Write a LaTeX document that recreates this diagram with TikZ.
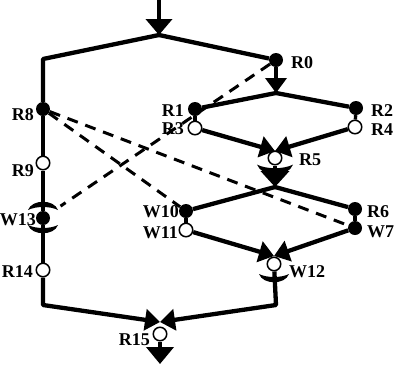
\documentclass[tikz,border=0pt]{standalone}
\usepackage{fontspec}
\setmainfont{Liberation Serif}
\usetikzlibrary{arrows.meta}

\tikzset{
  flow/.style={line width=4.3pt, line join=round},
  headed/.style={flow, -{Triangle[length=15pt,width=21pt]}},
  link/.style={line width=3pt, dash pattern=on 11pt off 8pt},
  neck/.style={line width=3.4pt},
  fullpl/.style={circle, fill=black, minimum size=14pt, inner sep=0pt},
  openpl/.style={circle, draw=black, fill=white, line width=1.5pt, minimum size=13.5pt, inner sep=0pt},
  lbl/.style={font=\bfseries\fontsize{18}{18}\selectfont, inner sep=0pt},
  bowl/.pic={\fill (-15,-2) .. controls (-11,9) and (11,9) .. (15,-2) .. controls (7,2) and (-7,2) .. cycle;}
}

\begin{document}
\begin{tikzpicture}[x=1pt,y=-1pt]
    \useasboundingbox (0,0) rectangle (399,365);

    % places
    \node[fullpl] (R0) at (276,60) {};
    \node[fullpl] (R1) at (195,109) {};
    \node[openpl] (R3) at (195,128) {};
    \node[fullpl] (R2) at (356,108) {};
    \node[openpl] (R4) at (355,127) {};
    \node[openpl] (R5) at (275,158) {};
    \node[fullpl] (W10) at (186,211) {};
    \node[openpl] (W11) at (186,230) {};
    \node[fullpl] (R6) at (355,209) {};
    \node[fullpl] (W7) at (355,228) {};
    \node[openpl] (W12) at (274,264) {};
    \node[fullpl] (R8) at (43,109) {};
    \node[openpl] (R9) at (43,163) {};
    \node[fullpl] (W13) at (43,218) {};
    \node[openpl] (R14) at (43,270) {};
    \node[openpl] (R15) at (160,334) {};

    % junctions and corners
    \coordinate (in) at (159,0);
    \coordinate (t0) at (159,35);
    \coordinate (t1) at (276,93);
    \coordinate (t2) at (275,151);
    \coordinate (t3) at (275,187);
    \coordinate (t4) at (274,256);
    \coordinate (t5) at (160,322);
    \coordinate (cL) at (43,59);
    \coordinate (cB) at (43,305);
    \coordinate (cR) at (276,305);
    \coordinate (out) at (160,364);

    % main flow
    \draw[flow, -{Triangle[length=16pt,width=26pt]}] (in) -- (t0);
    \draw[flow] (t0) -- (R0);
    \draw[headed] (R0) -- (t1);
    \draw[flow] (t1) -- (R1);
    \draw[flow] (t1) -- (R2);
    \draw[neck] (R1) -- (R3);
    \draw[neck] (R2) -- (R4);
    \draw[headed] (R3) -- (t2);
    \draw[headed] (R4) -- (t2);
    \draw[flow, -{Triangle[length=16pt,width=28pt]}] (R5) -- (t3);
    \pic[scale=1.2] at (275,167) {bowl};
    \draw[flow] (t3) -- (W10);
    \draw[flow] (t3) -- (R6);
    \draw[neck] (W10) -- (W11);
    \draw[neck] (R6) -- (W7);
    \draw[headed] (W11) -- (t4);
    \draw[headed] (W7) -- (t4);
    \draw[headed] (W12) -- (cR) -- (t5);
    \pic at (274,276) {bowl};

    \draw[flow] (t0) -- (cL) -- (R8);
    \draw[flow] (R8) -- (R9);
    \draw[flow] (R9) -- (W13);
    \draw[flow] (W13) -- (R14);
    \pic[yscale=-1] at (43,208) {bowl};
    \pic at (43,227) {bowl};
    \draw[headed] (R14) -- (cB) -- (t5);
    \draw[flow, -{Triangle[length=17pt,width=27pt]}] (R15) -- (out);

    % dashed arcs
    \draw[link, shorten >=14pt] (R0) -- (W13);
    \draw[link] (R8) -- (W10);
    \draw[link] (R8) -- (W7);

    % labels
    \node[lbl, anchor=west] (lR0) at (291,63) {R0};
    \node[lbl, anchor=east] (lR1) at (184,111) {R1};
    \node[lbl, anchor=east] (lR3) at (184,129) {R3};
    \node[lbl, anchor=west] (lR2) at (371,111) {R2};
    \node[lbl, anchor=west] (lR4) at (371,130) {R4};
    \node[lbl, anchor=west] (lR5) at (299,160) {R5};
    \node[lbl, anchor=east] (lR8) at (34,115) {R8};
    \node[lbl, anchor=east] (lR9) at (34,171) {R9};
    \node[lbl, anchor=east] (lW13) at (36,220) {W13};
    \node[lbl, anchor=east] (lR14) at (33,272) {R14};
    \node[lbl, anchor=east] (lR15) at (150,340) {R15};
    \node[lbl, anchor=east] (lW10) at (179,212) {W10};
    \node[lbl, anchor=east] (lW11) at (178,233) {W11};
    \node[lbl, anchor=west] (lR6) at (367,212) {R6};
    \node[lbl, anchor=west] (lW7) at (367,232) {W7};
    \node[lbl, anchor=west] (lW12) at (289,272) {W12};
\end{tikzpicture}
\end{document}
